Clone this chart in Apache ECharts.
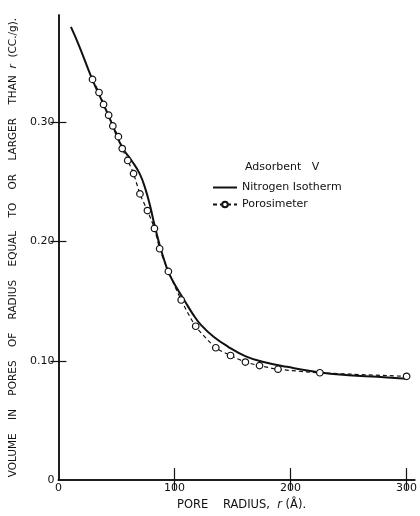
<!DOCTYPE html>
<html>
<head>
<meta charset="utf-8">
<script src="https://cdn.jsdelivr.net/npm/echarts@6/dist/echarts.min.js"></script>
<style>
html,body{margin:0;padding:0;background:#fff;}
#c{width:420px;height:516px;}
</style>
</head>
<body>
<div id="c"></div>
<script>
// Nitrogen isotherm (solid curve): pore radius (Å) vs cumulative volume (cc/g)
const isoR = [10.8, 17.5, 29.2, 38.9, 46.9, 55, 63, 70, 75, 79, 83, 87, 91, 95, 102, 109, 116, 123, 134, 146, 161, 175, 197, 224, 250, 275, 300];
const isoV = [0.380, 0.365, 0.336, 0.315, 0.297, 0.279, 0.268, 0.257, 0.244, 0.230, 0.213, 0.198, 0.185, 0.174, 0.161, 0.150, 0.139, 0.130, 0.120, 0.112, 0.104, 0.0995, 0.095, 0.0905, 0.088, 0.0866, 0.085];
// Porosimeter points (dashed with circles)
const poroR = [29.4, 35.0, 38.9, 43.3, 46.9, 51.7, 55.0, 59.75, 64.75, 70.25, 76.7, 82.75, 87.25, 94.75, 105.8, 118.3, 135.6, 148.3, 161.1, 173.3, 189.2, 225.25, 300];
const poroV = [0.336, 0.325, 0.315, 0.306, 0.297, 0.288, 0.278, 0.268, 0.257, 0.240, 0.226, 0.211, 0.194, 0.175, 0.151, 0.129, 0.111, 0.1045, 0.099, 0.096, 0.093, 0.090, 0.087];
// Tick values
const xTicks = [0, 100, 200, 300];
const yTicks = [0, 0.1, 0.2, 0.3];
const seriesNames = ['Nitrogen Isotherm', 'Porosimeter'];

const FONT = 'DejaVu Sans';
const chart = echarts.init(document.getElementById('c'), null, {renderer: 'canvas'});
const lineCol = '#111';

const isoData = isoR.map((r, i) => [r, isoV[i]]);
const poroData = poroR.map((r, i) => [r, poroV[i]]);

chart.setOption({
  animation: false,
  backgroundColor: '#fff',
  grid: {left: 54, right: -3, top: 15, bottom: 28, containLabel: false},
  xAxis: [{
    type: 'value', min: 0, max: 307, position: 'bottom',
    name: 'PORE    RADIUS,  {i|r} (Å).', nameLocation: 'middle', nameGap: 15,
    nameTextStyle: {fontFamily: FONT, fontSize: 11.5, color: lineCol, padding: [0, 0, 0, 10],
      rich: {i: {fontStyle: 'italic', fontFamily: FONT, fontSize: 11.5, color: lineCol}}},
    axisLine: {show: true, lineStyle: {color: lineCol, width: 1.5}},
    axisTick: {show: true, inside: true, length: 12, customValues: [100, 200, 300], lineStyle: {color: lineCol, width: 1.2}},
    axisLabel: {customValues: xTicks, fontFamily: FONT, fontSize: 11, color: lineCol, margin: 3, formatter: v => String(v)},
    splitLine: {show: false}
  }, {
    type: 'value', min: 0, max: 307, position: 'top',
    axisLine: {show: true, lineStyle: {color: lineCol, width: 1.5}},
    axisTick: {show: true, inside: true, length: 10, customValues: [100, 200, 300], lineStyle: {color: lineCol, width: 1.2}},
    axisLabel: {show: false},
    splitLine: {show: false}
  }],
  yAxis: [{
    type: 'value', min: 0, max: 0.39, position: 'left',
    name: 'VOLUME    IN    PORES    OF    RADIUS    EQUAL    TO    OR    LARGER    THAN  {i|r}  (CC./g).',
    nameLocation: 'middle', nameGap: 38, nameRotate: 90,
    nameTextStyle: {fontFamily: FONT, fontSize: 10.5, color: lineCol,
      rich: {i: {fontStyle: 'italic', fontFamily: FONT, fontSize: 10.5, color: lineCol}}},
    axisLine: {show: true, lineStyle: {color: lineCol, width: 1.5}},
    axisTick: {show: true, inside: true, length: 8, customValues: [0.1, 0.2, 0.3], lineStyle: {color: lineCol, width: 1.2}},
    axisLabel: {customValues: yTicks, fontFamily: FONT, fontSize: 11, color: lineCol, margin: 4,
      formatter: v => v === 0 ? '0' : v.toFixed(2)},
    splitLine: {show: false}
  }, {
    type: 'value', min: 0, max: 0.39, position: 'right',
    axisLine: {show: true, lineStyle: {color: lineCol, width: 1.5}},
    axisTick: {show: true, inside: true, length: 8, customValues: [0.1, 0.2, 0.3], lineStyle: {color: lineCol, width: 1.2}},
    axisLabel: {show: false},
    splitLine: {show: false}
  }],
  legend: {
    orient: 'vertical', left: 207, top: 177, itemWidth: 24, itemHeight: 7, itemGap: 6,
    textStyle: {fontFamily: FONT, fontSize: 11, color: lineCol},
    data: [
      {name: seriesNames[0], itemStyle: {opacity: 0}},
      {name: seriesNames[1]}
    ]
  },
  graphic: [{
    type: 'text', left: 245, top: 162,
    style: {text: 'Adsorbent   V', font: '11px "DejaVu Sans"', fill: lineCol}
  }],
  series: [{
    name: seriesNames[0], type: 'line', data: isoData, smooth: 0.45,
    showSymbol: false, symbol: 'none',
    lineStyle: {color: lineCol, width: 2}, itemStyle: {color: lineCol}
  }, {
    name: seriesNames[1], type: 'line', data: poroData, smooth: 0.25,
    symbol: 'circle', symbolSize: 6.5, showSymbol: true,
    lineStyle: {color: lineCol, width: 1.2, type: [4, 3]},
    itemStyle: {color: '#fff', borderColor: lineCol, borderWidth: 1.2}
  }]
});
</script>
</body>
</html>
